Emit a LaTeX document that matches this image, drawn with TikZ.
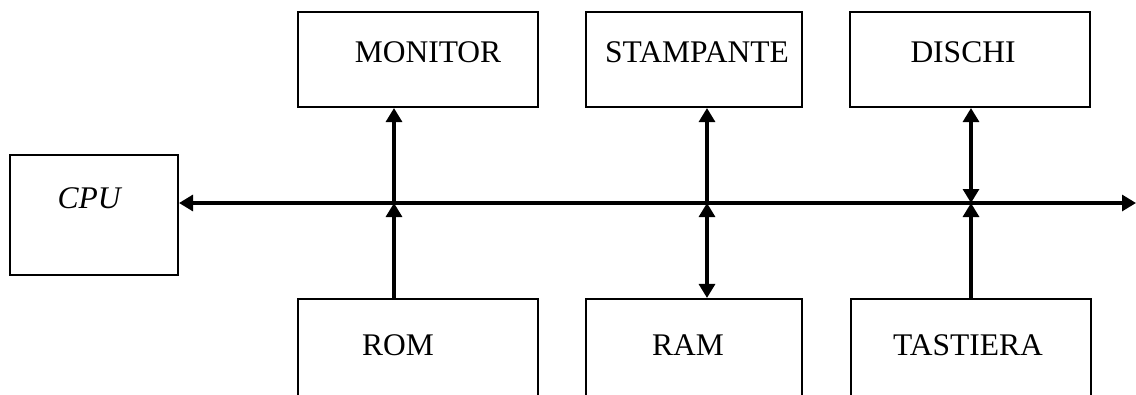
\documentclass[tikz,border=0pt]{standalone}
\usepackage{fontspec}
\setmainfont{Liberation Serif}
\usetikzlibrary{arrows.meta}
\begin{document}
\begin{tikzpicture}[x=1pt,y=-1pt,
  unit/.style={draw,rectangle,line width=2.1pt,inner sep=0pt},
  caption/.style={anchor=base,inner sep=0pt,font=\fontsize{31.5}{36}\selectfont},
  tip/.tip={Triangle[length=14pt,width=16pt]},
  link/.style={line width=3.1pt,-tip},
  duplex/.style={line width=3.1pt,tip-tip}]
\useasboundingbox (0,0) rectangle (1136,394);
\clip (0,0) rectangle (1136,394);

% processor and peripheral units
\node[unit,minimum width=168pt,minimum height=120pt] (cpu) at (94,215) {};
\node[unit,minimum width=240pt,minimum height=95pt] (mon) at (418,59.5) {};
\node[unit,minimum width=216pt,minimum height=95pt] (prn) at (694,59.5) {};
\node[unit,minimum width=240pt,minimum height=95pt] (dsk) at (970,59.5) {};
\node[unit,minimum width=240pt,minimum height=121pt] (rom) at (418,359.5) {};
\node[unit,minimum width=216pt,minimum height=121pt] (ram) at (694,359.5) {};
\node[unit,minimum width=240pt,minimum height=121pt] (kbd) at (971,359.5) {};

% labels
\node[caption] (tcpu) at (89,208) {\itshape CPU};
\node[caption] (tmon) at (428,62) {MONITOR};
\node[caption] (tprn) at (697,62) {STAMPANTE};
\node[caption] (tdsk) at (963,62) {DISCHI};
\node[caption] (trom) at (398,355) {ROM};
\node[caption] (tram) at (688,355) {RAM};
\node[caption] (tkbd) at (968,355) {TASTIERA};

% system bus
\coordinate (busend) at (1136,203);
\coordinate (j1) at (394,203);
\coordinate (j2) at (707,203);
\coordinate (j3) at (971,203);
\draw[duplex] (cpu.east |- busend) -- (busend);

% connections to the bus
\draw[link] (j1) -- (j1 |- mon.south);
\draw[link] (j1 |- rom.north) -- (j1);
\draw[link] (j2) -- (j2 |- prn.south);
\draw[duplex] (j2) -- (j2 |- ram.north);
\draw[duplex] (j3) -- (j3 |- dsk.south);
\draw[link] (j3 |- kbd.north) -- (j3);
\end{tikzpicture}
\end{document}
